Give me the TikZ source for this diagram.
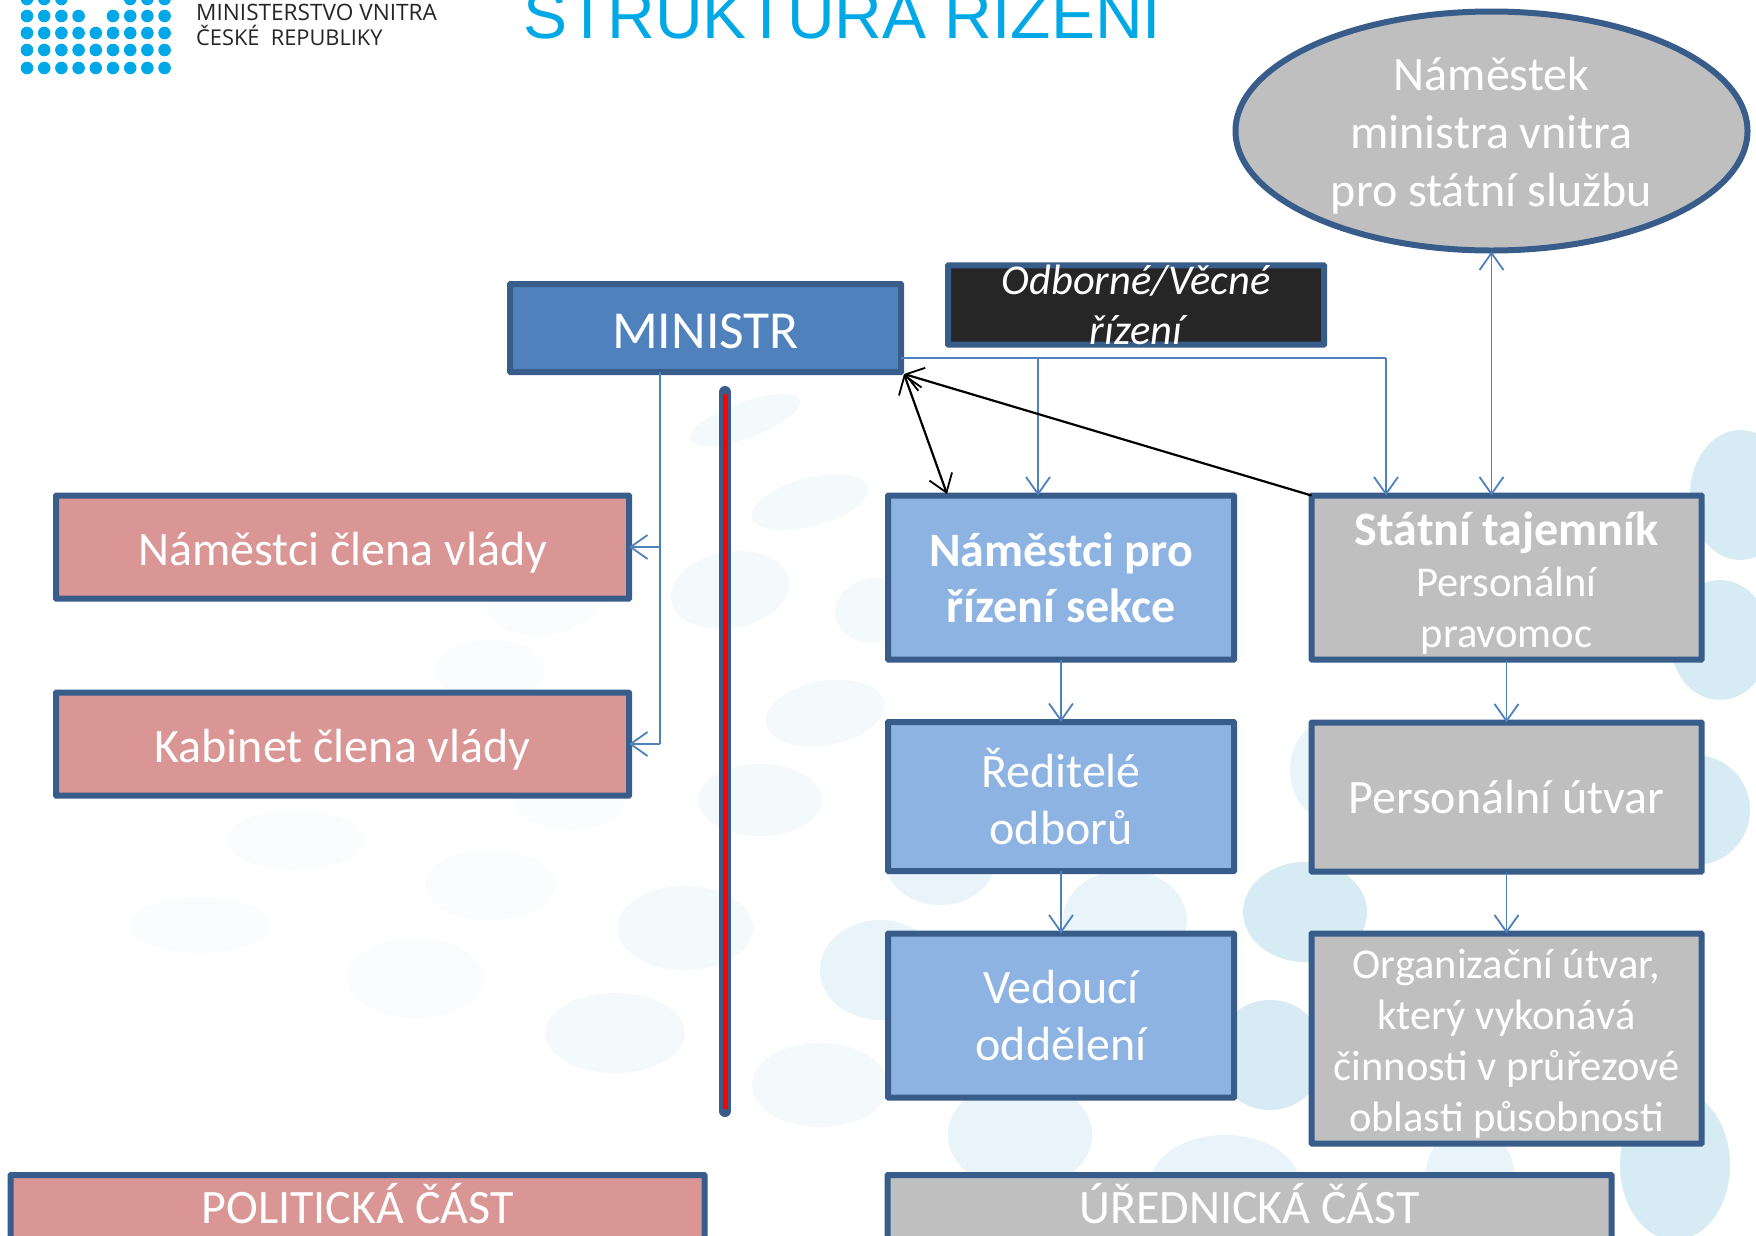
\documentclass[tikz,border=0pt]{standalone}
\usepackage{fontspec}
\setmainfont{Carlito}
\newfontfamily\titlefont{Liberation Sans}
\newfontfamily\logofont{Open Sans}
\usetikzlibrary{arrows.meta,shapes.geometric}
\definecolor{edgeblue}{HTML}{385D8A}
\definecolor{lineblue}{HTML}{4F81BD}
\definecolor{pinkfill}{HTML}{D99694}
\definecolor{skyfill}{HTML}{8DB3E2}
\definecolor{grayfill}{HTML}{BFBFBF}
\definecolor{darkfill}{HTML}{262626}
\definecolor{titlecyan}{HTML}{00A9E6}
\definecolor{dotcyan}{HTML}{00A8E8}
\definecolor{blobD}{HTML}{FBFCFD}
\definecolor{blobA}{HTML}{F4F9FB}
\definecolor{blobB}{HTML}{E8F4F9}
\definecolor{blobC}{HTML}{D6EBF3}
\newcommand{\fs}[2]{\fontsize{#1}{#2}\selectfont}
\newcommand{\blob}[6]{\fill[#6,rotate around={#5:(#1,#2)}] (#1,#2) ellipse [x radius=#3pt,y radius=#4pt];}
\newcommand{\dn}[1]{\rule{0pt}{#1pt}}
\newcommand{\up}[1]{\rule[-#1pt]{0pt}{#1pt}}
\tikzset{
  x=1pt,y=-1pt,
  box/.style={draw=edgeblue,line width=6pt,rounded corners=0.5pt,inner sep=0pt,outer sep=0pt,text=white,align=center},
  pinkbox/.style={box,fill=pinkfill},
  skybox/.style={box,fill=skyfill},
  graybox/.style={box,fill=grayfill},
  link/.style={draw=lineblue,line width=1.8pt},
  tip/.style={-{Straight Barb[length=17pt,width=24pt,line width=1.8pt]}},
  bitip/.style={{Straight Barb[length=17pt,width=24pt,line width=1.8pt]}-{Straight Barb[length=17pt,width=24pt,line width=1.8pt]}},
  blacklink/.style={draw=black,line width=2.2pt},
}
\begin{document}
\begin{tikzpicture}
\clip (0,0) rectangle (1756,1235);
\fill[white] (0,0) rectangle (1756,1235);
% background blobs
\blob{745}{420}{58}{18}{20}{blobA}
\blob{810}{502}{60}{24}{15}{blobA}
\blob{730}{590}{60}{38}{10}{blobA}
\blob{825}{713}{60}{32}{10}{blobA}
\blob{875}{610}{40}{32}{10}{blobA}
\blob{760}{800}{62}{36}{0}{blobA}
\blob{545}{595}{60}{40}{10}{blobD}
\blob{490}{670}{55}{30}{0}{blobD}
\blob{570}{800}{55}{30}{0}{blobD}
\blob{490}{885}{65}{35}{0}{blobD}
\blob{685}{928}{68}{42}{0}{blobA}
\blob{415}{978}{68}{40}{0}{blobD}
\blob{615}{1033}{70}{40}{0}{blobA}
\blob{295}{840}{68}{30}{0}{blobD}
\blob{200}{925}{70}{28}{0}{blobD}
\blob{820}{1085}{68}{42}{0}{blobA}
\blob{880}{970}{60}{50}{0}{blobB}
\blob{940}{860}{55}{45}{0}{blobB}
\blob{1125}{920}{62}{50}{0}{blobB}
\blob{1020}{1135}{72}{55}{0}{blobB}
\blob{1305}{912}{62}{50}{0}{blobC}
\blob{1270}{1055}{55}{55}{0}{blobC}
\blob{1225}{1185}{75}{50}{0}{blobB}
\blob{1330}{770}{40}{50}{0}{blobB}
\blob{1740}{495}{50}{65}{0}{blobC}
\blob{1720}{640}{50}{60}{0}{blobC}
\blob{1695}{810}{55}{55}{0}{blobC}
\blob{1675}{1165}{55}{75}{0}{blobC}
\blob{1470}{1180}{45}{55}{0}{blobB}
% logo
\foreach \c in {0,1,2,6,7,8} \fill[dotcyan] ({27+17.2*\c},-1) circle [radius=6.3pt];
\foreach \c in {0,1,2,3,5,6,7,8} \fill[dotcyan] ({27+17.2*\c},16) circle [radius=6.3pt];
\foreach \r in {33,50,68} \foreach \c in {0,...,8} \fill[dotcyan] ({27+17.2*\c},\r) circle [radius=6.3pt];
\node[anchor=base west,inner sep=0pt,text=black!85,font=\logofont\fs{22.6}{24}] (logoa) at (196,20) {MINISTERSTVO VNITRA};
\node[anchor=base west,inner sep=0pt,text=black!85,font=\logofont\fs{21.8}{24}] (logob) at (196,45) {ČESKÉ\ \ REPUBLIKY};
% title
\node[anchor=base west,inner sep=0pt,text=titlecyan,font=\titlefont\fs{66}{70}] (title) at (523,38) {STRUKTURA ŘÍZENÍ};
% divider
\draw[edgeblue,line width=12pt,line cap=round] (725,392) -- (725,1111);
\draw[red,line width=5pt] (725,394) -- (725,1109);
% nodes
\node[draw=edgeblue,line width=6pt,fill=grayfill,ellipse,inner sep=0pt,outer sep=1pt,minimum width=512,minimum height=239,text=white,align=center,font=\fs{48}{58}] (deputy) at (1491.5,131) {\dn{42}Náměstek\\ministra vnitra\\pro státní službu};
\node[box,fill=lineblue,minimum width=391,minimum height=88,font=\fs{53.5}{56}] (ministr) at (705.5,328) {\dn{41}MINISTR};
\node[box,fill=darkfill,minimum width=376,minimum height=72,font=\itshape\fs{42.5}{49.5}] (odborne) at (1136,305) {Odborné/Věcné\\řízení};
\node[pinkbox,minimum width=573,minimum height=103,font=\fs{48}{52}] (namclen) at (342.5,547) {\dn{44}Náměstci člena vlády};
\node[pinkbox,minimum width=573,minimum height=103,font=\fs{48}{52}] (kabinet) at (342.5,744) {\dn{44}Kabinet člena vlády};
\node[skybox,minimum width=346,minimum height=164,font=\bfseries\fs{48}{56}] (namsekce) at (1061,577.5) {Náměstci pro\\řízení sekce};
\node[graybox,minimum width=390,minimum height=164,font=\fs{42.5}{51}] (statni) at (1506.5,577.5) {\dn{44}{\bfseries\fs{48}{51}Státní tajemník}\\Personální\\pravomoc};
\node[skybox,minimum width=346,minimum height=149,font=\fs{48}{57}] (reditele) at (1061,796.5) {\up{14}Ředitelé\\odborů};
\node[graybox,minimum width=390,minimum height=149,font=\fs{48}{52}] (personal) at (1506.5,797) {Personální útvar};
\node[skybox,minimum width=346,minimum height=164,font=\fs{48}{57}] (vedouci) at (1061,1015.5) {Vedoucí\\oddělení};
\node[graybox,minimum width=390,minimum height=210,font=\fs{42.5}{51}] (organiz) at (1506.5,1038.5) {\dn{40}Organizační útvar,\\který vykonává\\činnosti v průřezové\\oblasti působnosti};
\node[pinkbox,minimum width=694,minimum height=64,font=\fs{48}{52}] (polit) at (357.5,1207) {\up{7}POLITICKÁ ČÁST};
\node[graybox,minimum width=724,minimum height=64,font=\fs{48}{52}] (urednik) at (1249.5,1207) {\up{7}ÚŘEDNICKÁ ČÁST};
% helper points
\coordinate (trunk) at (660,372);
\coordinate (rightrail) at (1386,358);
\coordinate (midrail) at (1038,358);
\coordinate (railstart) at (ministr.east |- rightrail);
\coordinate (minicorner) at (904,374);
% connectors
\draw[link] (trunk) -- (trunk |- kabinet.east);
\draw[link,tip] (trunk |- namclen.east) -- (namclen.east);
\draw[link,tip] (trunk |- kabinet.east) -- (kabinet.east);
\draw[link] (railstart) -- (rightrail);
\draw[link,tip] (rightrail) -- (rightrail |- statni.north);
\draw[link,tip] (midrail) -- (midrail |- namsekce.north);
\draw[link,bitip] (deputy.south) -- (deputy.south |- statni.north);
\draw[link,tip] (namsekce.south) -- (reditele.north);
\draw[link,tip] (reditele.south) -- (vedouci.north);
\draw[link,tip] (statni.south) -- (personal.north);
\draw[link,tip] (personal.south) -- (organiz.north);
\coordinate (blackend) at (947,494);
\draw[blacklink,bitip] (minicorner) -- (blackend);
\draw[blacklink,tip] (statni.north west) -- (minicorner);
\end{tikzpicture}
\end{document}
